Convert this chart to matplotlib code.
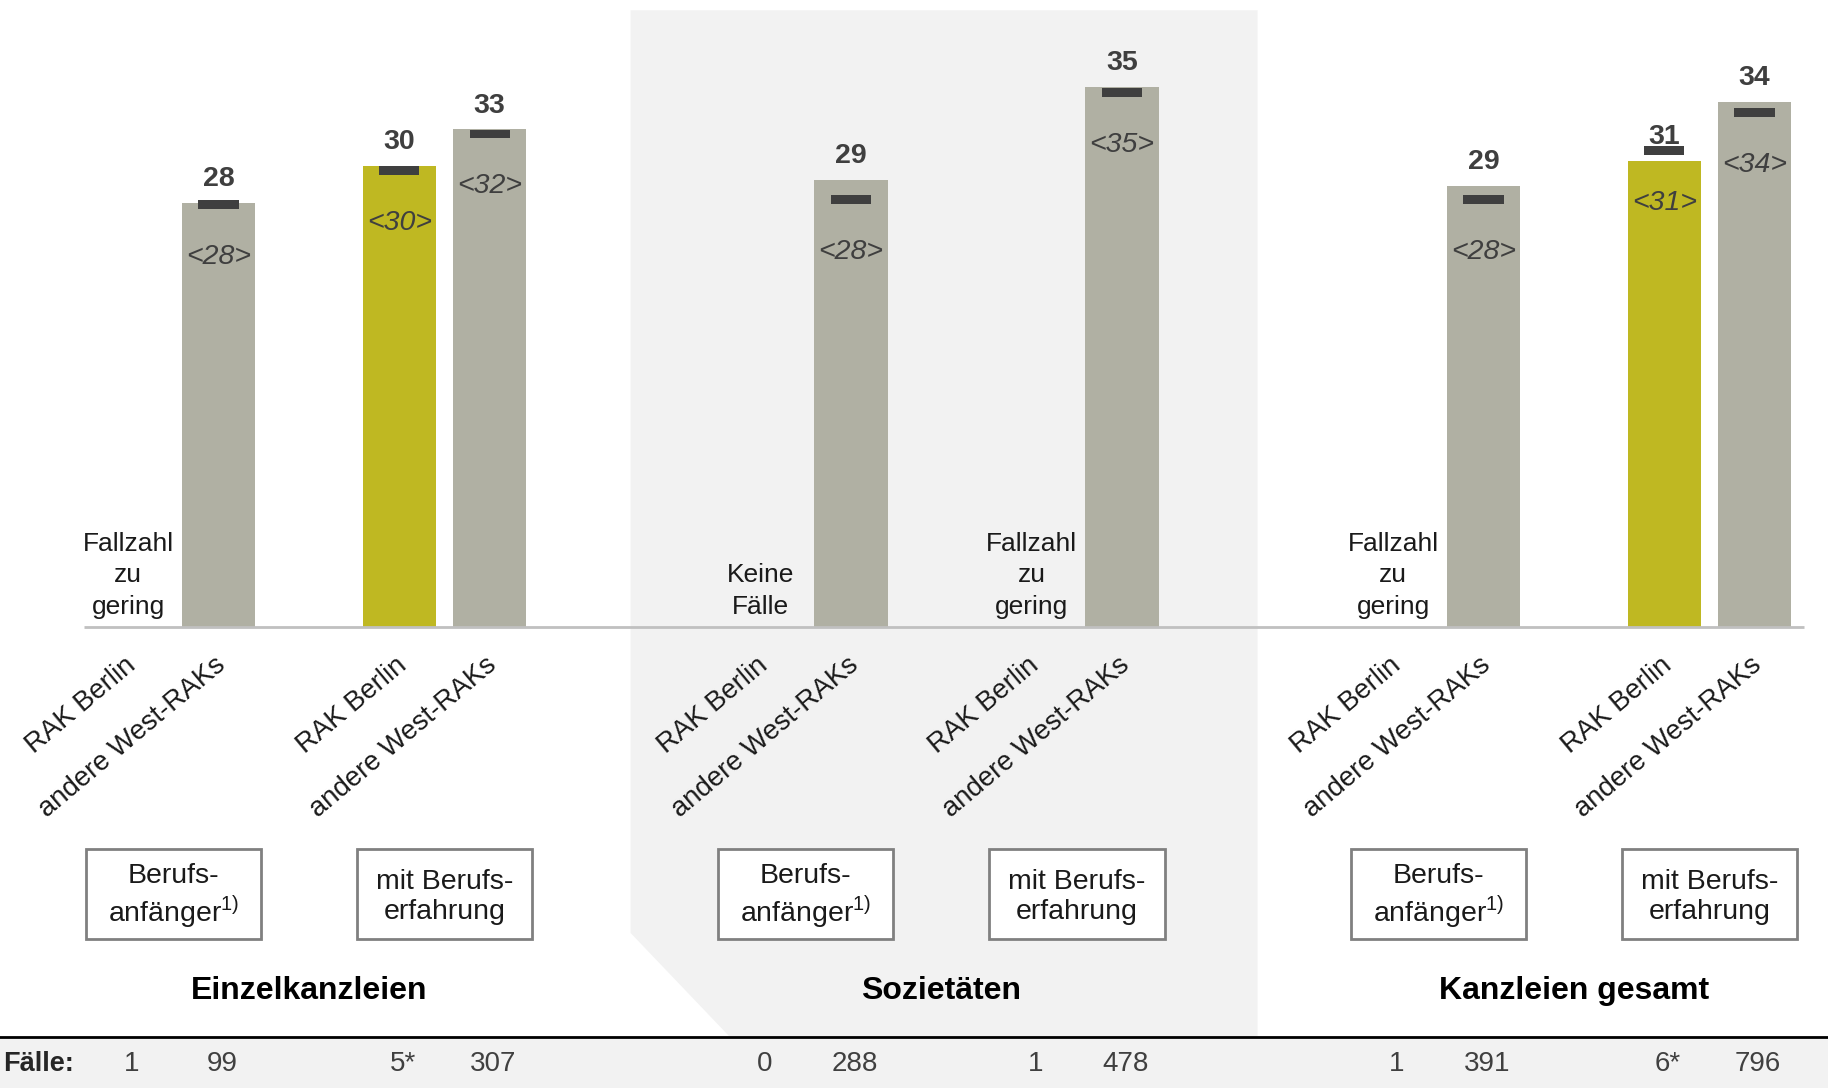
import numpy as np
import matplotlib.pyplot as plt
from matplotlib.patches import Rectangle, Polygon

plt.rcParams['font.family'] = ['Liberation Sans', 'DejaVu Sans']
plt.rcParams['mathtext.fontset'] = 'custom'
plt.rcParams['mathtext.rm'] = 'Liberation Sans'

groups = ['Einzelkanzleien', 'Sozietäten', 'Kanzleien gesamt']
subgroups = ['Berufs-\nanfänger$^{1)}$', 'mit Berufs-\nerfahrung']
regions = ['RAK Berlin', 'andere West-RAKs']

# order: group -> subgroup -> region
means = [np.nan, 27.8, 30.2, 32.6,
         np.nan, 29.3, np.nan, 35.4,
         np.nan, 28.9, 30.5, 34.4]
medians = [np.nan, 27.7, 29.9, 32.3,
           np.nan, 28.0, np.nan, 35.0,
           np.nan, 28.0, 31.2, 33.7]
mean_labels = ['', '28', '30', '33', '', '29', '', '35', '', '29', '31', '34']
median_labels = ['', '28', '30', '32', '', '28', '', '35', '', '28', '31', '34']
notes = ['Fallzahl\nzu\ngering', '', '', '',
         'Keine\nFälle', '', 'Fallzahl\nzu\ngering', '',
         'Fallzahl\nzu\ngering', '', '', '']
cases = ['1', '99', '5*', '307', '0', '288', '1', '478', '1', '391', '6*', '796']

GREY = '#b0b0a3'
YELLOW = '#bfb822'
DARK = '#3f3f3f'
PANEL = '#f2f2f2'

pos = [7 * g + 3 * s + r for g in range(3) for s in range(2) for r in range(2)]
colors = [YELLOW if i % 2 == 0 else GREY for i in range(len(pos))]

fig = plt.figure(figsize=(18.28, 10.88), dpi=100)
ax = fig.add_axes([0, 0, 1, 1])
ax.set_xlim(-1.419, 18.813)
ax.set_ylim(-30.15, 41.07)
ax.axis('off')

# shaded middle panel with cut corner
left = (pos[3] + pos[4]) / 2 + 0.06
right = (pos[7] + pos[8]) / 2
ax.add_patch(Polygon([(left, 40.4), (right, 40.4), (right, -26.75), (left + 1.09, -26.75),
                      (left, -20.0)], closed=True, color=PANEL, lw=0, zorder=0))

# Fälle row
ax.add_patch(Rectangle((-1.419, -30.15), 20.3, 3.4, color=PANEL, lw=0, zorder=0))
ax.axhline(-26.8, color='black', lw=2)
ax.text(-1.38, -28.6, 'Fälle:', ha='left', va='center', fontsize=19.5, fontweight='bold', color='#262626')
for x, c in zip(pos, cases):
    ax.text(x + 0.04, -28.6, c, ha='center', va='center', fontsize=20, color='#404040')

# bars
for i, x in enumerate(pos):
    if np.isnan(means[i]):
        ax.text(x, 0.55, notes[i], ha='center', va='bottom', fontsize=19, color='#1a1a1a',
                linespacing=1.4)
        continue
    ax.bar(x, means[i], width=0.81, color=colors[i], zorder=2)
    ax.bar(x, 0.57, bottom=medians[i] - 0.285, width=0.445, color=DARK, zorder=3)
    top = max(means[i] + 1.1, medians[i] + 0.45)
    ax.text(x, top, mean_labels[i], ha='center', va='baseline', fontsize=20.5,
            fontweight='bold', color=DARK)
    ax.text(x, medians[i] - 3.43, '<' + median_labels[i] + '>', ha='center', va='center',
            fontsize=20.5, style='italic', color=DARK)

ax.hlines(0, pos[0] - 0.49, pos[-1] + 0.55, color='#c0c0c0', lw=2, zorder=4)

# rotated region labels
for i, x in enumerate(pos):
    ax.text(x - 0.05, -1.6, regions[i % 2], ha='right', va='top', rotation=40,
            rotation_mode='anchor', fontsize=19.8, color='#1a1a1a')

# subgroup boxes
for g in range(3):
    for s in range(2):
        cx = 7 * g + 3 * s + 0.5
        ax.add_patch(Rectangle((cx - 0.97, -20.38), 1.94, 5.88, facecolor='white',
                               edgecolor='#808080', lw=2, zorder=3))
        ax.text(cx, -17.65, subgroups[s], ha='center', va='center', fontsize=20.5,
                color='#1a1a1a', linespacing=1.2, zorder=4)
    ax.text(7 * g + 2, -23.8, groups[g], ha='center', va='center', fontsize=23,
            fontweight='bold', color='black')

fig.savefig('out.png', dpi=100)
